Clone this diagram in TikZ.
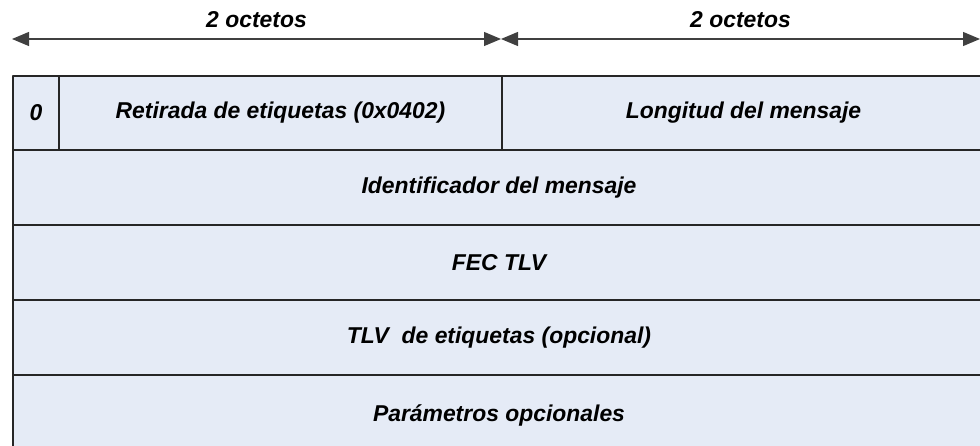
\documentclass[tikz,border=0pt]{standalone}
\usepackage{fontspec}
\setmainfont{Liberation Sans}
\usetikzlibrary{arrows.meta,positioning}
\definecolor{fondocelda}{HTML}{E5EBF6}

\begin{document}
\begin{tikzpicture}[x=1pt, y=-1pt, >={Triangle[length=17pt, width=14pt]}, line join=round,
	font=\fontsize{22.9}{27}\selectfont\bfseries\itshape,
	celda/.style={draw=black!85, line width=2pt, fill=fondocelda, inner sep=0pt, anchor=north west},
	cota/.style={<->, draw=black!75, line width=1.2pt}]
	\useasboundingbox (0,0) rectangle (980,446);
	\clip (0,0) rectangle (980,446);
	
	% Cotas superiores
	\coordinate (izq) at (12,39);
	\coordinate (med) at (501,39);
	\coordinate (der) at (980,39);
	\draw[cota] (izq) -- (med) node[midway, above=7pt] {2 octetos};
	\draw[cota] (med) -- (der) node[midway, above=7pt] {2 octetos};
	
	% Primera fila
	\node[celda, minimum width=46pt, minimum height=74pt] (cero) at (12,75) {0};
	\node[celda, minimum width=443pt, minimum height=74pt] (retirada) at (58,75) {Retirada de etiquetas (0x0402)};
	\node[celda, minimum width=483pt, minimum height=74pt] (longitud) at (501,75) {Longitud del mensaje};
	
	% Filas completas
	\node[celda, minimum width=972pt, minimum height=75pt] (ident) at (12,149) {Identificador del mensaje};
	\node[celda, minimum width=972pt, minimum height=75pt] (fec) at (12,224) {FEC TLV};
	\node[celda, minimum width=972pt, minimum height=75pt] (tlv) at (12,299) {TLV~ de etiquetas (opcional)};
	\node[celda, minimum width=972pt, minimum height=80pt] (param) at (12,374) {Parámetros opcionales};
\end{tikzpicture}
\end{document}
